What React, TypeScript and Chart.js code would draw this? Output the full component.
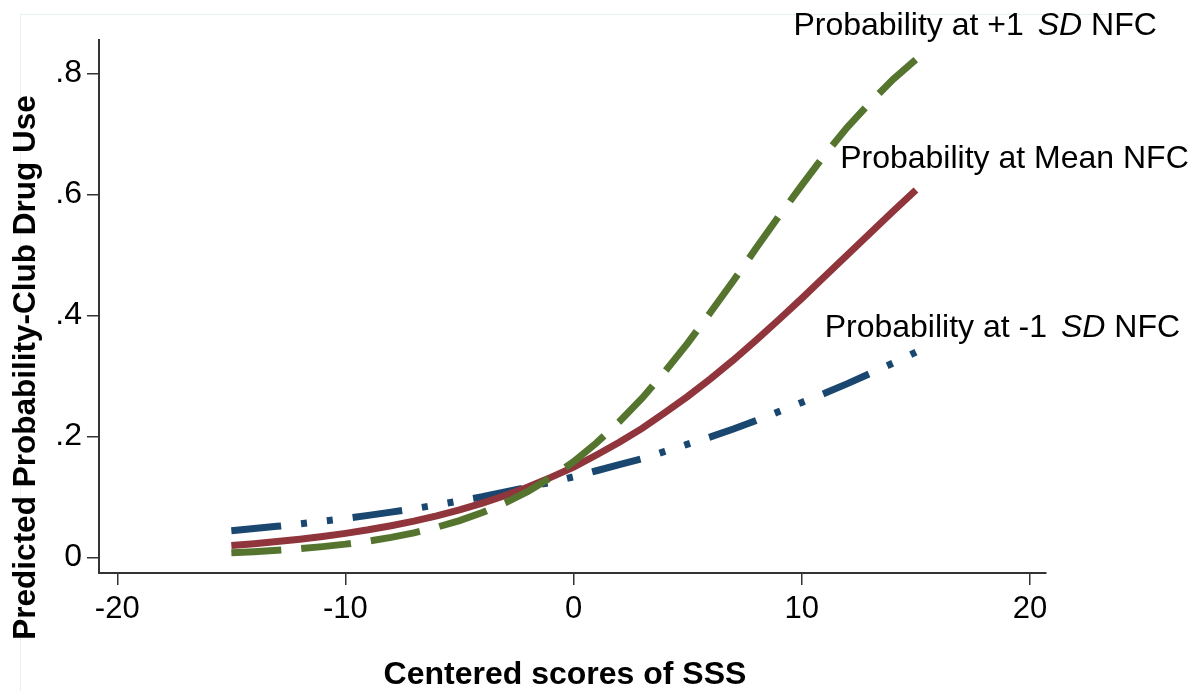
import React, { useEffect, useRef } from "react";
import { Chart, registerables } from "chart.js";

Chart.register(...registerables);

// ---- Data ----
const SSS_SCORES = [
  -15, -14, -13, -12, -11, -10, -9, -8, -7, -6, -5, -4, -3, -2, -1, 0,
  1, 2, 3, 4, 5, 6, 7, 8, 9, 10, 11, 12, 13, 14, 15,
];
const PROB_PLUS_1SD = [
  0.0075, 0.0093, 0.0115, 0.0142, 0.0176, 0.0217, 0.0267, 0.0329, 0.0404, 0.0496,
  0.0607, 0.074, 0.0901, 0.109, 0.132, 0.158, 0.189, 0.224, 0.263, 0.307, 0.354,
  0.405, 0.457, 0.511, 0.564, 0.615, 0.665, 0.711, 0.752, 0.79, 0.823,
];
const PROB_MEAN = [
  0.0196, 0.0225, 0.026, 0.0299, 0.0344, 0.0395, 0.0454, 0.0522, 0.0598, 0.0685,
  0.0784, 0.0895, 0.102, 0.116, 0.132, 0.149, 0.169, 0.19, 0.213, 0.239, 0.266,
  0.295, 0.326, 0.359, 0.393, 0.428, 0.464, 0.5, 0.536, 0.572, 0.607,
];
const PROB_MINUS_1SD = [
  0.0439, 0.0474, 0.0511, 0.0552, 0.0596, 0.0642, 0.0692, 0.0746, 0.0804, 0.0865,
  0.0931, 0.1, 0.108, 0.116, 0.124, 0.133, 0.143, 0.153, 0.163, 0.175, 0.187,
  0.199, 0.212, 0.226, 0.241, 0.256, 0.271, 0.287, 0.304, 0.321, 0.339,
];
const X_TICKS = [-20, -10, 0, 10, 20];
const Y_TICKS = [0, 0.2, 0.4, 0.6, 0.8];
const Y_TICK_LABELS = ["0", ".2", ".4", ".6", ".8"];
const X_TITLE = "Centered scores of SSS";
const Y_TITLE = "Predicted Probability-Club Drug Use";

// label texts: [before italic, italic, after italic]
const LABEL_PARTS = [
  ["Probability at +1", "SD", " NFC"],
  ["Probability at Mean NFC", "", ""],
  ["Probability at -1", "SD", " NFC"],
];
// anchor positions (data coordinates) for the labels: left / baseline
const LABEL_ANCHOR_X = [9.63, 11.68, 11.0];
const LABEL_ANCHOR_Y = [0.863, 0.643, 0.364];

const NAVY = "rgb(26,71,111)";
const MAROON = "rgb(144,53,59)";
const FOREST = "rgb(85,117,47)";
const FONT = "'Liberation Sans', Arial, Helvetica, sans-serif";

const toPoints = (ys: number[]) => SSS_SCORES.map((x, i) => ({ x, y: ys[i] }));

const decorPlugin = {
  id: "decor",
  beforeDraw(chart: any) {
    const ctx = chart.ctx;
    ctx.save();
    ctx.fillStyle = "#ffffff";
    ctx.fillRect(0, 0, chart.width, chart.height);
    ctx.strokeStyle = "rgb(232,241,242)";
    ctx.lineWidth = 1;
    ctx.beginPath();
    ctx.moveTo(20.5, chart.height);
    ctx.lineTo(20.5, 14.5);
    ctx.lineTo(1150, 14.5);
    ctx.stroke();
    ctx.restore();
  },
  afterDraw(chart: any) {
    const ctx = chart.ctx;
    const xs = chart.scales.x;
    const ys = chart.scales.y;
    ctx.save();
    ctx.fillStyle = "#000";
    ctx.textBaseline = "alphabetic";
    ctx.textAlign = "left";
    LABEL_PARTS.forEach((parts, i) => {
      let px = xs.getPixelForValue(LABEL_ANCHOR_X[i]);
      const py = ys.getPixelForValue(LABEL_ANCHOR_Y[i]);
      const fonts = [`32px ${FONT}`, `italic 32px ${FONT}`, `32px ${FONT}`];
      parts.forEach((p, j) => {
        if (!p) return;
        ctx.font = fonts[j];
        if (j === 1) px += 14;
        ctx.fillText(p, px, py);
        px += ctx.measureText(p).width;
      });
    });

    // axis titles
    ctx.font = `bold 32px ${FONT}`;
    ctx.textAlign = "center";
    ctx.fillText(X_TITLE, 565, 684);
    ctx.translate(35, 367.5);
    ctx.rotate(-Math.PI / 2);
    ctx.font = `bold 31.5px ${FONT}`;
    ctx.fillText(Y_TITLE, 0, 0);
    ctx.restore();
  },
};

export default function App() {
  const canvasRef = useRef<HTMLCanvasElement | null>(null);

  useEffect(() => {
    document.body.style.margin = "0";
    const canvas = canvasRef.current;
    if (!canvas) return;
    const chart = new Chart(canvas, {
      type: "line",
      data: {
        datasets: [
          {
            label: "Probability at +1 SD NFC",
            data: toPoints(PROB_PLUS_1SD),
            borderColor: FOREST,
            borderWidth: 7,
            borderDash: [50, 20],
            borderCapStyle: "butt",
            pointRadius: 0,
            tension: 0,
            order: 0,
          },
          {
            label: "Probability at Mean NFC",
            data: toPoints(PROB_MEAN),
            borderColor: MAROON,
            borderWidth: 7,
            pointRadius: 0,
            tension: 0,
            order: 1,
          },
          {
            label: "Probability at -1 SD NFC",
            data: toPoints(PROB_MINUS_1SD),
            borderColor: NAVY,
            borderWidth: 7,
            borderDash: [50, 20, 6, 20, 6, 20],
            borderCapStyle: "butt",
            pointRadius: 0,
            tension: 0,
            order: 2,
          },
        ],
      },
      options: {
        animation: false,
        responsive: true,
        maintainAspectRatio: false,
        layout: { padding: { top: 40, right: 147, left: 0, bottom: 0 } },
        plugins: {
          legend: { display: false },
          tooltip: { enabled: false },
        },
        scales: {
          x: {
            type: "linear",
            min: -20.8,
            max: 20.7,
            afterBuildTicks: (scale: any) => {
              scale.ticks = X_TICKS.map((v) => ({ value: v }));
            },
            afterFit: (scale: any) => {
              scale.height = 118;
            },
            grid: {
              display: true,
              drawOnChartArea: false,
              drawTicks: true,
              tickLength: 12,
              color: "#333",
              lineWidth: 1.5,
            },
            border: { display: true, color: "#333", width: 2 },
            ticks: {
              autoSkip: false,
              maxRotation: 0,
              padding: 6,
              color: "#000",
              font: { family: FONT, size: 31 },
              callback: (v: any) => String(v),
            },
            title: { display: false, text: X_TITLE },
          },
          y: {
            type: "linear",
            min: -0.026,
            max: 0.855,
            afterBuildTicks: (scale: any) => {
              scale.ticks = Y_TICKS.map((v) => ({ value: v }));
            },
            afterFit: (scale: any) => {
              scale.width = 99;
            },
            grid: {
              display: true,
              drawOnChartArea: false,
              drawTicks: true,
              tickLength: 12,
              color: "#333",
              lineWidth: 1.5,
            },
            border: { display: true, color: "#333", width: 2 },
            ticks: {
              autoSkip: false,
              padding: 5,
              color: "#000",
              font: { family: FONT, size: 32 },
              callback: (v: any) => {
                const idx = Y_TICKS.findIndex((t) => Math.abs(t - v) < 1e-9);
                return idx >= 0 ? Y_TICK_LABELS[idx] : "";
              },
            },
            title: { display: false, text: Y_TITLE },
          },
        },
      },
      plugins: [decorPlugin],
    });
    return () => chart.destroy();
  }, []);

  return (
    <div style={{ position: "fixed", left: 0, top: 0, width: 1193, height: 691 }}>
      <canvas ref={canvasRef} />
    </div>
  );
}
